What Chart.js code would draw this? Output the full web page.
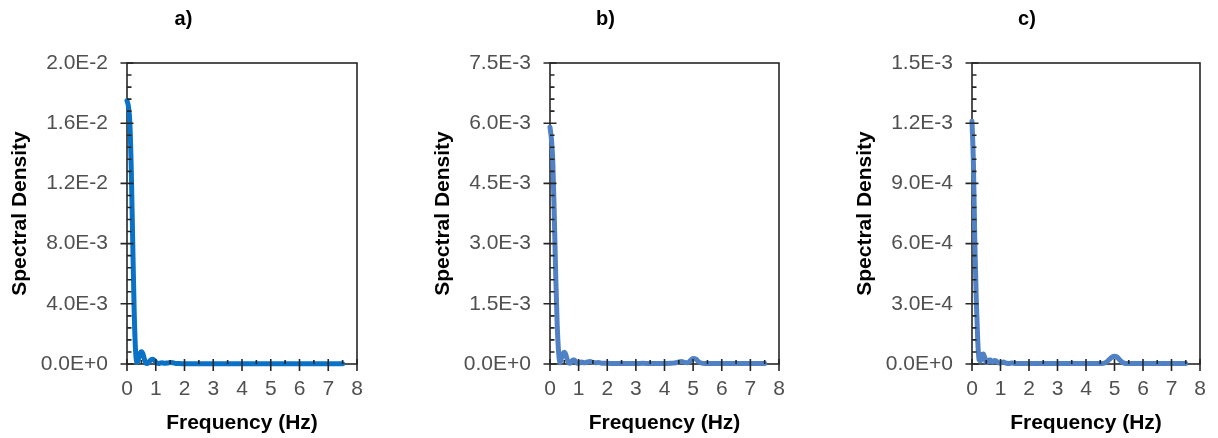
<!DOCTYPE html>
<html><head><meta charset="utf-8">
<script src="https://cdn.jsdelivr.net/npm/chart.js@4.4.1/dist/chart.umd.min.js"></script>
<style>
html,body{margin:0;padding:0;background:#fff;width:1218px;height:438px;overflow:hidden;position:relative}
canvas{position:absolute;top:0}
</style></head>
<body>
<canvas id="ca" width="355" height="438" style="left:10px;width:355px;height:438px"></canvas>
<canvas id="cb" width="355" height="438" style="left:432px;width:355px;height:438px"></canvas>
<canvas id="cc" width="354" height="438" style="left:854px;width:354px;height:438px"></canvas>
<script>
// ---- data ----
const freq = [0,0.05,0.1,0.15,0.2,0.25,0.3,0.35,0.4,0.45,0.5,0.55,0.6,0.65,0.7,0.75,0.8,0.85,0.9,0.95,1.0,
  1.1,1.2,1.3,1.4,1.5,1.6,1.7,1.8,1.9,2.0,
  2.25,2.5,2.75,3.0,3.25,3.5,3.75,4.0,4.25,
  4.4,4.5,4.6,4.7,4.8,4.9,5.0,5.1,5.2,5.3,5.4,
  5.6,5.8,6.0,6.25,6.5,6.75,7.0,7.25,7.5];

const densA = [0.0175,0.0171,0.0160,0.0128,0.0080,0.0035,0.0008,0.0001,0.00035,0.0007,0.00082,0.0007,0.00035,0.00008,0.00003,0.0001,0.00022,0.0003,0.00032,0.00025,0.00012,
  0.00003,0.00008,0.00005,0.00006,0.0001,0.00008,0.00004,0.00003,0.00002,0.00002,
  0.00002,0.00001,0.00002,0.00001,0.00001,0.00002,0.00001,0.00001,0.00001,
  0.00001,0.00001,0.00001,0.00001,0.00001,0.00001,0.00002,0.00001,0.00001,0.00001,0.00001,
  0.00001,0.00001,0.00001,0.00001,0.00001,0.00001,0.00001,0.00001,0.00001];

const densB = [0.0059,0.0056,0.0050,0.0037,0.0022,0.0010,0.0003,0.00003,0.00015,0.00026,0.00029,0.00024,0.00012,0.00003,0.00002,0.00006,0.0001,0.0001,0.00006,0.00002,0.00002,
  0.00005,0.00003,0.00005,0.00006,0.00004,0.00003,0.00004,0.00002,0.00002,0.00002,
  0.00001,0.00001,0.00001,0.00001,0.00002,0.00001,0.00001,0.00001,0.00002,
  0.00003,0.00005,0.00006,0.00004,0.00003,0.00008,0.00014,0.00012,0.00005,0.00002,0.00001,
  0.00001,0.00001,0.00001,0.00001,0.00001,0.00001,0.00001,0.00001,0.00001];

const densC = [0.00121,0.00100,0.00060,0.00032,0.00012,0.00002,0.000015,0.000045,0.00005,0.00003,0.000008,0.00001,0.00002,0.00002,0.00001,0.000012,0.000018,0.000015,0.000008,0.000005,0.000005,
  0.00001,0.000004,0.000003,0.000005,0.000003,0.000002,0.000002,0.000002,0.000002,0.000002,
  0.000002,0.000002,0.000002,0.000002,0.000002,0.000002,0.000002,0.000002,0.000002,
  0.000002,0.000002,0.000003,0.000008,0.00002,0.000033,0.000038,0.000033,0.000018,0.000006,0.000002,
  0.000002,0.000002,0.000002,0.000002,0.000002,0.000002,0.000002,0.000002,0.000002];

const xTickVals = [0,1,2,3,4,5,6,7,8];
const xTickLabels = ['0','1','2','3','4','5','6','7','8'];

const yTickValsA = [0,0.004,0.008,0.012,0.016,0.020];
const yTickLabelsA = ['0.0E+0','4.0E-3','8.0E-3','1.2E-2','1.6E-2','2.0E-2'];
const yTickValsB = [0,0.0015,0.003,0.0045,0.006,0.0075];
const yTickLabelsB = ['0.0E+0','1.5E-3','3.0E-3','4.5E-3','6.0E-3','7.5E-3'];
const yTickValsC = [0,0.0003,0.0006,0.0009,0.0012,0.0015];
const yTickLabelsC = ['0.0E+0','3.0E-4','6.0E-4','9.0E-4','1.2E-3','1.5E-3'];

const panelTitles = ['a)','b)','c)'];
const xTitle = 'Frequency (Hz)';
const yTitle = 'Spectral Density';

// ---- drawing ----
const FONT = "'Liberation Sans', Arial, sans-serif";
const AXIS = '#262626';

const framePlugin = {
  id: 'frame',
  beforeDatasetsDraw(chart) {
    const {ctx, chartArea:{left,right,top,bottom}} = chart;
    ctx.save();
    ctx.strokeStyle = AXIS; ctx.lineWidth = 1.6;
    ctx.strokeRect(left, top, right-left, bottom-top);
    ctx.restore();
  },
  afterDatasetsDraw(chart, args, opts) {
    const {ctx, chartArea:{left,right,top,bottom}, scales:{x,y}} = chart;
    ctx.save();
    ctx.strokeStyle = AXIS; ctx.lineWidth = 1.6;
    ctx.beginPath();
    const nY = opts.yMinor;
    for (let i = 0; i <= nY; i++) {
      const py = y.getPixelForValue(y.max * i / nY);
      if (i % 5 === 0) { ctx.moveTo(left - 6.5, py); ctx.lineTo(left + 6.5, py); }
      else { ctx.moveTo(left, py); ctx.lineTo(left + 4.5, py); }
    }
    const nX = 16;
    for (let i = 0; i <= nX; i++) {
      const px = x.getPixelForValue(x.max * i / nX);
      if (i % 2 === 0) { ctx.moveTo(px, bottom - 5); ctx.lineTo(px, bottom + 7); }
      else { ctx.moveTo(px, bottom); ctx.lineTo(px, bottom - 4); }
    }
    ctx.stroke();
    ctx.restore();
  }
};

function makeChart(id, dens, yMax, yVals, yLabels, color, yMinor, yAxisW, padRight, title) {
  return new Chart(document.getElementById(id), {
    type: 'line',
    data: {
      datasets: [{
        data: freq.map((f, i) => ({x: f, y: dens[i]})),
        borderColor: color, borderWidth: 5, pointRadius: 0,
        cubicInterpolationMode: 'monotone', fill: false, clip: 6,
        borderJoinStyle: 'round', borderCapStyle: 'round'
      }]
    },
    options: {
      responsive: false, devicePixelRatio: 1, animation: false, events: [],
      layout: { padding: { left: 0, right: padRight, top: 0, bottom: 0 } },
      plugins: {
        legend: { display: false }, tooltip: { enabled: false },
        title: { display: true, text: title, color: '#000',
                 font: { family: FONT, size: 20, weight: 'bold' },
                 padding: { top: 7, bottom: 32 } },
        frame: { yMinor: yMinor }
      },
      scales: {
        x: {
          type: 'linear', min: 0, max: 8,
          grid: { display: false, drawTicks: false }, border: { display: false },
          afterBuildTicks: s => { s.ticks = xTickVals.map(v => ({value: v})); },
          afterFit: s => { s.height = 74; s.paddingLeft = 0; s.paddingRight = 0; },
          ticks: { padding: 13, color: '#505050', autoSkip: false, maxRotation: 0,
                   font: { family: FONT, size: 21 }, callback: (v, i) => xTickLabels[i] },
          title: { display: true, text: xTitle, color: '#000',
                   font: { family: FONT, size: 21, weight: 'bold' }, padding: { top: 0, bottom: 2 } }
        },
        y: {
          type: 'linear', min: 0, max: yMax,
          grid: { display: false, drawTicks: false }, border: { display: false },
          afterBuildTicks: s => { s.ticks = yVals.map(v => ({value: v})); },
          afterFit: s => { s.width = yAxisW; },
          ticks: { padding: 19, color: '#505050', autoSkip: false,
                   font: { family: FONT, size: 21 }, callback: (v, i) => yLabels[i] },
          title: { display: true, text: yTitle, color: '#000',
                   font: { family: FONT, size: 21, weight: 'bold' }, padding: { top: yAxisW - 119, bottom: 0 } }
        }
      }
    },
    plugins: [framePlugin]
  });
}

makeChart('ca', densA, 0.02, yTickValsA, yTickLabelsA, '#0a72c6', 25, 117, 8, panelTitles[0]);
makeChart('cb', densB, 0.0075, yTickValsB, yTickLabelsB, '#4f81c4', 25, 118, 8, panelTitles[1]);
makeChart('cc', densC, 0.0015, yTickValsC, yTickLabelsC, '#4f81c4', 25, 118, 8, panelTitles[2]);
</script>
</body></html>
